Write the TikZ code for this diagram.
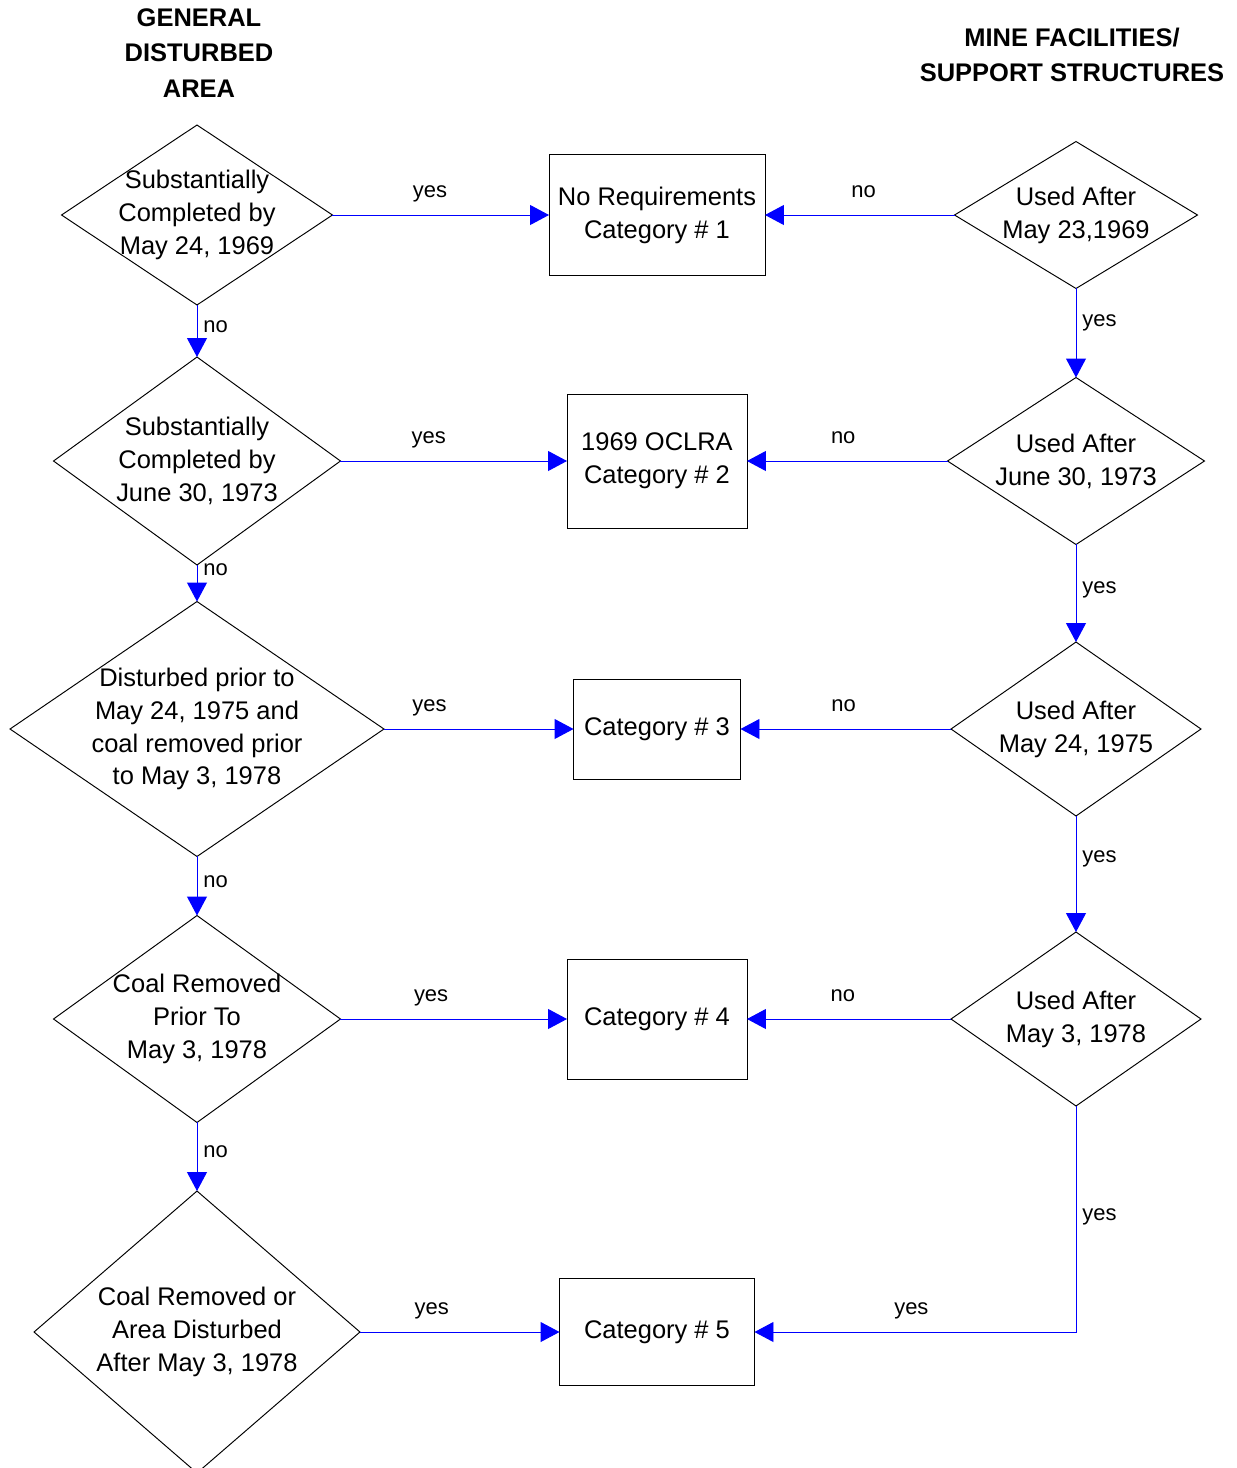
\documentclass[tikz,border=0pt]{standalone}
\usepackage{fontspec}
\setmainfont{Liberation Sans}
\usetikzlibrary{shapes.geometric,arrows.meta,positioning}

\newcommand{\boxfont}{\fontsize{14.5}{18.7}\selectfont}
\newcommand{\ansfont}{\fontsize{12.5}{15}\selectfont}

\tikzset{
  dtxt/.style={align=center, font=\boxfont, inner sep=0pt},
  dec/.style={draw, diamond, inner sep=0pt, outer sep=0pt, line width=0.55pt,
    label={[dtxt]center:#1}},
  cat/.style={draw, rectangle, align=center, font=\boxfont, line width=0.55pt,
    outer sep=0pt, inner sep=0pt},
  head/.style={align=center, font=\boxfont\bfseries\fontsize{14.5}{20}\selectfont},
  flow/.style={blue, line width=0.55pt, -{Triangle[length=0.38cm,width=0.4cm]}},
  ansup/.style={font=\ansfont, text=black, anchor=base, yshift=10pt},
  ansright/.style={font=\ansfont, text=black, right}
}

\begin{document}
\begin{tikzpicture}[x=0.02cm, y=-0.02cm]
  \useasboundingbox (0,0) rectangle (1237,1468);

  % column headings
  \node[head] (hleft) at (199,53) {GENERAL\\DISTURBED\\AREA};
  \node[head] (hright) at (1072,55) {MINE FACILITIES/\\SUPPORT STRUCTURES};

  % general disturbed area
  \node[dec={Substantially\\Completed by\\May 24, 1969}, minimum width=5.42cm, minimum height=3.6cm] (d1) at (197,215) {};
  \node[dec={Substantially\\Completed by\\June 30, 1973}, minimum width=5.74cm, minimum height=4.16cm] (d2) at (197,461) {};
  \node[dec={Disturbed prior to\\May 24, 1975 and\\coal removed prior\\to May 3, 1978}, minimum width=7.48cm, minimum height=5.1cm] (d3) at (197,729) {};
  \node[dec={Coal Removed\\Prior To\\May 3, 1978}, minimum width=5.74cm, minimum height=4.14cm] (d4) at (197,1019) {};
  \node[dec={Coal Removed or\\Area Disturbed\\After May 3, 1978}, minimum width=6.52cm, minimum height=5.64cm] (d5) at (197,1332) {};

  % categories
  \node[cat, minimum width=4.32cm, minimum height=2.42cm] (b1) at (657,215) {No Requirements\\Category \# 1};
  \node[cat, minimum width=3.6cm, minimum height=2.68cm] (b2) at (657,461) {1969 OCLRA\\Category \# 2};
  \node[cat, minimum width=3.34cm, minimum height=2.0cm] (b3) at (657,729) {Category \# 3};
  \node[cat, minimum width=3.6cm, minimum height=2.4cm] (b4) at (657,1019) {Category \# 4};
  \node[cat, minimum width=3.9cm, minimum height=2.14cm] (b5) at (657,1332) {Category \# 5};

  % mine facilities / support structures
  \node[dec={Used After\\May 23,1969}, minimum width=4.86cm, minimum height=2.94cm] (r1) at (1076,215) {};
  \node[dec={Used After\\June 30, 1973}, minimum width=5.14cm, minimum height=3.34cm] (r2) at (1076,461) {};
  \node[dec={Used After\\May 24, 1975}, minimum width=5.0cm, minimum height=3.48cm] (r3) at (1076,729) {};
  \node[dec={Used After\\May 3, 1978}, minimum width=5.0cm, minimum height=3.48cm] (r4) at (1076,1019) {};

  % left column
  \draw[flow] (d1.east) -- node[ansup, pos=.45] {yes} (b1.west);
  \draw[flow] (d2.east) -- node[ansup, pos=.39] {yes} (b2.west);
  \draw[flow] (d3.east) -- node[ansup, pos=.24] {yes} (b3.west);
  \draw[flow] (d4.east) -- node[ansup, pos=.40] {yes} (b4.west);
  \draw[flow] (d5.east) -- node[ansup, pos=.36] {yes} (b5.west);
  \draw[flow] (d1.south) -- node[ansright, pos=.42] {no} (d2.north);
  \draw[flow] (d2.south) -- node[ansright, pos=.12] {no} (d3.north);
  \draw[flow] (d3.south) -- node[ansright, pos=.42] {no} (d4.north);
  \draw[flow] (d4.south) -- node[ansright, pos=.42] {no} (d5.north);

  % right column
  \draw[flow] (r1.west) -- node[ansup, pos=.48] {no} (b1.east);
  \draw[flow] (r2.west) -- node[ansup, pos=.52] {no} (b2.east);
  \draw[flow] (r3.west) -- node[ansup, pos=.51] {no} (b3.east);
  \draw[flow] (r4.west) -- node[ansup, pos=.53] {no} (b4.east);
  \draw[flow] (r1.south) -- node[ansright, pos=.39] {yes} (r2.north);
  \draw[flow] (r2.south) -- node[ansright, pos=.47] {yes} (r3.north);
  \draw[flow] (r3.south) -- node[ansright, pos=.37] {yes} (r4.north);
  \draw[flow] (r4.south) |- node[ansright, pos=.245] {yes}
    node[ansup, pos=.756] {yes} (b5.east);
\end{tikzpicture}
\end{document}
